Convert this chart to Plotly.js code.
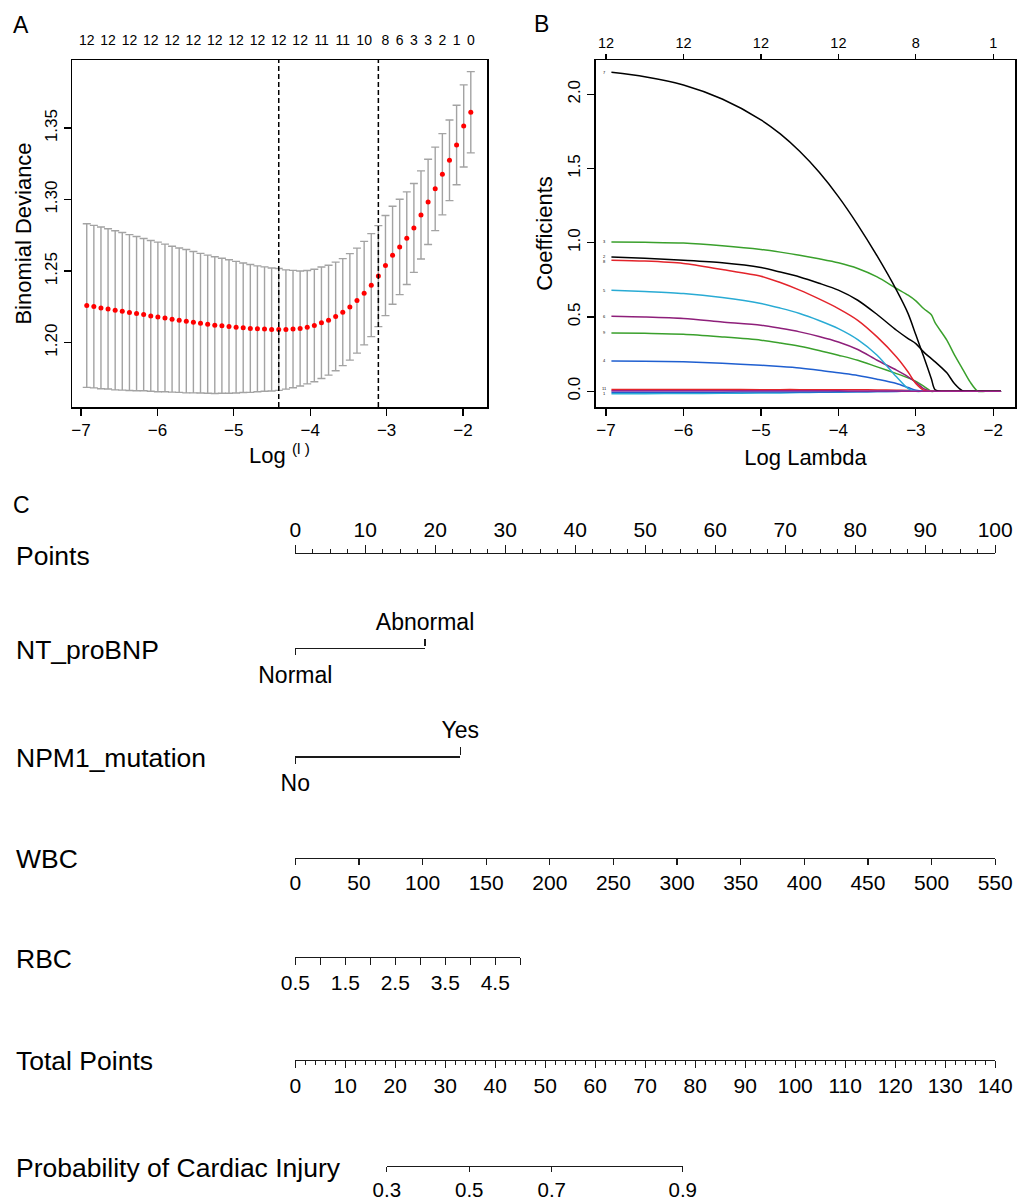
<!DOCTYPE html>
<html><head><meta charset="utf-8">
<script src="https://cdn.plot.ly/plotly-3.0.1.min.js"></script>
<style>html,body{margin:0;padding:0;background:#fff}</style>
</head><body><div id="chart" style="width:1019px;height:1200px"></div>
<script>
// ---------------- Panel A: cross-validated binomial deviance ----------------
const logLambda = [-6.925,-6.832,-6.739,-6.646,-6.553,-6.460,-6.366,-6.273,-6.180,-6.087,
  -5.994,-5.901,-5.808,-5.715,-5.622,-5.529,-5.436,-5.342,-5.249,-5.156,
  -5.063,-4.970,-4.877,-4.784,-4.691,-4.598,-4.505,-4.412,-4.318,-4.225,
  -4.132,-4.039,-3.946,-3.853,-3.760,-3.667,-3.574,-3.481,-3.388,-3.294,
  -3.201,-3.108,-3.015,-2.922,-2.829,-2.736,-2.643,-2.550,-2.457,-2.364,
  -2.270,-2.177,-2.084,-1.991,-1.898];
const cvMean = [1.2259,1.2252,1.2243,1.2236,1.2226,1.2219,1.2210,1.2203,1.2196,1.2187,
  1.2180,1.2173,1.2164,1.2157,1.2150,1.2143,1.2136,1.2129,1.2122,1.2118,
  1.2113,1.2108,1.2104,1.2099,1.2097,1.2095,1.2092,1.2092,1.2092,1.2095,
  1.2099,1.2108,1.2120,1.2139,1.2157,1.2183,1.2213,1.2250,1.2294,1.2346,
  1.2402,1.2465,1.2539,1.2611,1.2669,1.2730,1.2802,1.2893,1.2984,1.3075,
  1.3177,1.3275,1.3382,1.3515,1.3611];
const cvSD = [0.0572,0.0568,0.0565,0.0560,0.0556,0.0551,0.0545,0.0539,0.0532,0.0527,
  0.0523,0.0516,0.0510,0.0505,0.0501,0.0494,0.0488,0.0483,0.0478,0.0472,
  0.0467,0.0460,0.0453,0.0447,0.0440,0.0435,0.0430,0.0426,0.0417,0.0410,
  0.0402,0.0396,0.0393,0.0390,0.0384,0.0380,0.0374,0.0372,0.0367,0.0362,
  0.0360,0.0353,0.0350,0.0343,0.0333,0.0324,0.0311,0.0308,0.0298,0.0292,
  0.0284,0.0282,0.0278,0.0287,0.0284];
const nonZero = [12,12,12,12,12,12,12,12,12,12,12,12,12,12,12,12,12,12,12,12,
  12,12,12,12,12,12,12,12,12,12,12,12,12,11,11,11,11,11,11,10,
  10,10,8,8,6,6,3,3,3,3,2,2,1,1,0];
const nonZeroShownIdx = [0,3,6,9,12,15,18,21,24,27,30,33,36,39,42,44,46,48,50,52,54];
const logLambdaMin = -4.412;
const logLambda1se = -3.108;

// ---------------- Panel B: coefficient paths ----------------
const coefLogLambda = [-6.93,-6.5,-6,-5.5,-5,-4.75,-4.5,-4.25,-4,-3.75,-3.5,-3.25,-3.1,-3.0,-2.9,-2.8,-2.75,-2.6,-2.5,-2.4,-2.3,-2.2,-2.1,-1.9];
const coefVar7  = [2.148,2.118,2.063,1.968,1.828,1.733,1.616,1.476,1.311,1.121,0.911,0.681,0.523,0.380,0.235,0.085,0.010,0,0,0,0,0,0,0];
const coefVar3  = [1.006,1.003,0.998,0.980,0.955,0.937,0.916,0.892,0.865,0.827,0.770,0.692,0.647,0.609,0.557,0.515,0.460,0.344,0.243,0.153,0.063,0,0,0];
const coefVar2  = [0.905,0.895,0.882,0.865,0.833,0.803,0.770,0.728,0.681,0.613,0.517,0.411,0.355,0.321,0.265,0.220,0.198,0.124,0.050,0.004,0,0,0,0];
const coefVar8  = [0.883,0.877,0.861,0.820,0.775,0.732,0.681,0.622,0.557,0.478,0.366,0.231,0.130,0.052,0.008,0,0,0,0,0,0,0,0,0];
const coefVar5  = [0.681,0.672,0.658,0.631,0.591,0.560,0.524,0.477,0.422,0.348,0.243,0.097,0.018,0,0,0,0,0,0,0,0,0,0,0];
const coefVar6  = [0.505,0.500,0.490,0.467,0.445,0.424,0.400,0.369,0.332,0.281,0.209,0.142,0.097,0.060,0.018,0,0,0,0,0,0,0,0,0];
const coefVar9  = [0.393,0.390,0.384,0.366,0.344,0.325,0.303,0.275,0.243,0.209,0.164,0.119,0.090,0.067,0.034,0,0,0,0,0,0,0,0,0];
const coefVar4  = [0.204,0.202,0.198,0.189,0.175,0.167,0.157,0.142,0.124,0.106,0.081,0.052,0.025,0.007,0,0,0,0,0,0,0,0,0,0];
const coefVar10 = [0.012,0.012,0.012,0.012,0.011,0.011,0.011,0.010,0.010,0.010,0.009,0.007,0.005,0.003,0.001,0,0,0,0,0,0,0,0,0];
const coefVar12 = [-0.006,-0.006,-0.006,-0.006,-0.005,-0.005,-0.005,-0.0045,-0.004,-0.003,-0.002,-0.001,0,0,0,0,0,0,0,0,0,0,0,0];
const coefVar1  = [-0.016,-0.016,-0.015,-0.014,-0.012,-0.011,-0.009,-0.0075,-0.006,-0.004,-0.002,0,0,0,0,0,0,0,0,0,0,0,0,0];
const coefVar11 = [0.004,0.004,0.004,0.004,0.004,0.0035,0.003,0.003,0.003,0.002,0.002,0.001,0,0,0,0,0,0,0,0,0,0,0,0];
const coefTopTickVals = [-7,-6,-5,-4,-3,-2];
const coefTopTickText = ["12","12","12","12","8","1"];

// ---------------- Panel C: nomogram ----------------
const pointsRange = [0,100];
const ntLevels = ["Normal","Abnormal"];
const ntPoints = [0,18.54];
const npmLevels = ["No","Yes"];
const npmPoints = [0,23.58];
const wbcRange = [0,550];
const rbcRange = [0.5,5.0];
const rbcMaxPoints = 32.14;
const totalRange = [0,140];
const probLabels = ["0.3","0.5","0.7","0.9"];
const probTotalPoints = [18.3,34.8,51.3,77.5];

// ---------------- layout helpers ----------------
const W = 1019, H = 1200;
const px = v => v / W;
const py = v => 1 - v / H;
const FONT = "Liberation Sans, Arial, Helvetica, sans-serif";

const traces = [];
const layout = {
  width: W, height: H, margin: {l:0,r:0,t:0,b:0},
  paper_bgcolor: '#ffffff', plot_bgcolor: 'rgba(0,0,0,0)',
  showlegend: false, font: {family: FONT, color: '#000'},
  shapes: [], annotations: []
};
const ghost = (xa, ya, xs) => ({x: xs, y: [0,0], xaxis: xa, yaxis: ya, mode: 'markers',
  marker: {opacity: 0, size: 1}, hoverinfo: 'skip', showlegend: false});

// ---- Panel A ----
const aX = [px(72), px(487)], aY = [py(407), py(60)];
const aXRange = [-7.118, -1.686];
traces.push({
  x: logLambda, y: cvMean, xaxis: 'x', yaxis: 'y', mode: 'markers',
  marker: {color: '#FF0000', size: 5},
  error_y: {type: 'data', array: cvSD, visible: true, color: '#A3A3A3', thickness: 1.4, width: 4}
});
traces.push(ghost('x2', 'y', aXRange));
const frameAxis = {showline: true, linecolor: '#000', linewidth: 1.5, mirror: true,
  ticks: 'outside', ticklen: 7, tickwidth: 1.3, tickcolor: '#000', showgrid: false, zeroline: false,
  tickfont: {size: 17}};
layout.xaxis = Object.assign({}, frameAxis, {domain: aX, range: aXRange, anchor: 'y',
  tickvals: [-7,-6,-5,-4,-3,-2], tickangle: 0,
  title: {text: 'Log <sup>(l )</sup>', font: {size: 22}, standoff: 2}});
layout.yaxis = Object.assign({}, frameAxis, {domain: aY, range: [1.155, 1.3976], anchor: 'x',
  tickvals: [1.20,1.25,1.30,1.35], tickformat: '.2f', tickangle: -90,
  title: {text: 'Binomial Deviance', font: {size: 22}, standoff: 4}});
layout.xaxis2 = {overlaying: 'x', anchor: 'y', side: 'top', domain: aX, range: aXRange,
  tickvals: nonZeroShownIdx.map(i => logLambda[i]),
  ticktext: nonZeroShownIdx.map(i => String(nonZero[i])),
  tickangle: 0, ticks: 'outside', ticklen: 8, tickcolor: 'rgba(0,0,0,0)',
  showline: false, showgrid: false, zeroline: false, tickfont: {size: 14}};
[logLambdaMin, logLambda1se].forEach(v => layout.shapes.push({type: 'line', xref: 'x', yref: 'y domain',
  x0: v, x1: v, y0: 0, y1: 1, line: {color: '#000', width: 1.5, dash: '5px,3px'}}));

// ---- Panel B ----
const bX = [px(595.7), px(1015.3)];
const bXRange = [-7.133, -1.716];
const coefSeries = [
  {y: coefVar10, c: '#E3242B'},
  {y: coefVar1,  c: '#29ABD4'},
  {y: coefVar12, c: '#1F5FD0'},
  {y: coefVar4,  c: '#1F5FD0'},
  {y: coefVar9,  c: '#3AA02C'},
  {y: coefVar6,  c: '#8E1F7A'},
  {y: coefVar5,  c: '#29ABD4'},
  {y: coefVar8,  c: '#E3242B'},
  {y: coefVar2,  c: '#000000'},
  {y: coefVar3,  c: '#3AA02C'},
  {y: coefVar7,  c: '#000000'},
  {y: coefVar11, c: '#A0208C'}
];
coefSeries.forEach(s => {
  traces.push({x: coefLogLambda, y: s.y, xaxis: 'x3', yaxis: 'y3', mode: 'lines',
    line: {color: s.c, width: 1.5, shape: 'spline', smoothing: 0.8}, hoverinfo: 'skip'});
});
// tiny variable labels at the left end of each path (stacked where they coincide)
const coefLabelGroups = [
  {text: '7', y: coefVar7[0]}, {text: '3', y: coefVar3[0]},
  {text: '2<br>8', y: (coefVar2[0] + coefVar8[0]) / 2}, {text: '5', y: coefVar5[0]},
  {text: '6', y: coefVar6[0]}, {text: '9', y: coefVar9[0]}, {text: '4', y: coefVar4[0]},
  {text: '11<br>1', y: 0}
];
coefLabelGroups.forEach(g => layout.annotations.push({x: coefLogLambda[0], y: g.y, xref: 'x3', yref: 'y3',
  xshift: -7, text: g.text, showarrow: false, font: {size: 4, color: '#000'},
  xanchor: 'center', yanchor: 'middle'}));
traces.push(ghost('x4', 'y3', bXRange));
layout.xaxis3 = Object.assign({}, frameAxis, {domain: bX, range: bXRange, anchor: 'y3',
  tickvals: [-7,-6,-5,-4,-3,-2], tickangle: 0,
  title: {text: 'Log Lambda', font: {size: 22}, standoff: 10}});
layout.yaxis3 = Object.assign({}, frameAxis, {domain: aY, range: [-0.106, 2.231], anchor: 'x3',
  tickvals: [0,0.5,1,1.5,2], tickformat: '.1f', tickangle: -90,
  title: {text: 'Coefficients', font: {size: 22}, standoff: 6}});
layout.xaxis4 = {overlaying: 'x3', anchor: 'y3', side: 'top', domain: bX, range: bXRange,
  tickvals: coefTopTickVals, ticktext: coefTopTickText, tickangle: 0,
  ticks: 'outside', ticklen: 5, tickwidth: 1.2, tickcolor: '#000',
  showline: false, showgrid: false, zeroline: false, tickfont: {size: 14.5}};

// ---- Panel C: nomogram ----
const nx0 = px(295.3), nx1 = px(995.2), nW = nx1 - nx0;
const rowY = {points: 554.3, nt: 647.7, npm: 756, wbc: 857.3, rbc: 956.7, total: 1059.3, prob: 1165.5};
const nomoAxis = {showline: true, linecolor: '#1a1a1a', linewidth: 1.5, ticks: 'outside',
  tickcolor: '#1a1a1a', tickwidth: 1.3, ticklen: 6, showgrid: false, zeroline: false,
  tickfont: {size: 21}, tickangle: 0};
let axN = 5;
function rowYAxis(row) {
  const p = py(rowY[row]);
  return {domain: [p - 0.0002, p + 0.0002], range: [0, 1], visible: false, fixedrange: true};
}
function addAxis(row, xcfg, overlayCfg) {
  const n = axN++;
  const xa = 'x' + n, ya = 'y' + n;
  layout['yaxis' + n] = rowYAxis(row);
  layout['xaxis' + n] = Object.assign({}, nomoAxis, {anchor: ya}, xcfg);
  traces.push(ghost(xa, ya, xcfg.range));
  if (overlayCfg) {
    const m = axN++;
    layout['xaxis' + m] = Object.assign({}, nomoAxis, {anchor: ya, overlaying: xa,
      domain: xcfg.domain, range: xcfg.range, showline: false}, overlayCfg);
    traces.push(ghost('x' + m, ya, xcfg.range));
  }
}
const minorCfg = (d, len) => ({dtick: d, ticklen: len, ticks: 'outside', tickcolor: '#1a1a1a', tickwidth: 1.2, showgrid: false});
// Points
addAxis('points', {domain: [nx0, nx1], range: pointsRange, side: 'top', tick0: 0, dtick: 10, ticklen: 7.5,
  minor: minorCfg(2.5, 4)});
// NT_proBNP
addAxis('nt', {domain: [nx0, nx0 + nW * ntPoints[1] / 100], range: ntPoints, side: 'bottom',
  tickvals: [ntPoints[0]], ticktext: [ntLevels[0]], tickfont: {size: 23}},
  {side: 'top', tickvals: [ntPoints[1]], ticktext: [ntLevels[1]], tickfont: {size: 23}, ticklen: 7.5});
// NPM1_mutation
addAxis('npm', {domain: [nx0, nx0 + nW * npmPoints[1] / 100], range: npmPoints, side: 'bottom',
  tickvals: [npmPoints[0]], ticktext: [npmLevels[0]], tickfont: {size: 23}},
  {side: 'top', tickvals: [npmPoints[1]], ticktext: [npmLevels[1]], tickfont: {size: 23}, ticklen: 7.5});
// WBC
addAxis('wbc', {domain: [nx0, nx1], range: wbcRange, side: 'bottom', tick0: 0, dtick: 50, ticklen: 5.5});
// RBC: labels every 1 starting 0.5, extra ticks every 0.5
addAxis('rbc', {domain: [nx0, nx0 + nW * rbcMaxPoints / 100], range: rbcRange, side: 'bottom',
  tick0: rbcRange[0], dtick: 1, ticklen: 6.5, minor: minorCfg(0.5, 6.5)});
// Total Points
addAxis('total', {domain: [nx0, nx1], range: totalRange, side: 'bottom', tick0: 0, dtick: 10, ticklen: 6.5,
  minor: minorCfg(2, 3.5)});
// Probability
const pTot = totalRange[1] - totalRange[0];
addAxis('prob', {domain: [nx0 + nW * probTotalPoints[0] / pTot, nx0 + nW * probTotalPoints[3] / pTot],
  range: [probTotalPoints[0], probTotalPoints[3]], side: 'bottom', ticklen: 5,
  tickvals: probTotalPoints, ticktext: probLabels, tickfont: {size: 20.5}});

// Row labels
const rowLabels = [['points','Points'],['nt','NT_proBNP'],['npm','NPM1_mutation'],['wbc','WBC'],
  ['rbc','RBC'],['total','Total Points'],['prob','Probability of Cardiac Injury']];
rowLabels.forEach(([k, t]) => layout.annotations.push({x: px(14), y: py(rowY[k] + 2), xref: 'paper', yref: 'paper',
  text: t, showarrow: false, xanchor: 'left', yanchor: 'middle', font: {size: 26.5, color: '#000'}}));

// Panel letters
[['A',21,25],['B',541,24],['C',21,505]].forEach(([t,x,y]) => layout.annotations.push({x: px(x), y: py(y),
  xref: 'paper', yref: 'paper', text: t, showarrow: false, xanchor: 'center', yanchor: 'middle',
  font: {size: 23, color: '#000'}}));

Plotly.newPlot('chart', traces, layout, {displayModeBar: false, staticPlot: true});
</script></body></html>
